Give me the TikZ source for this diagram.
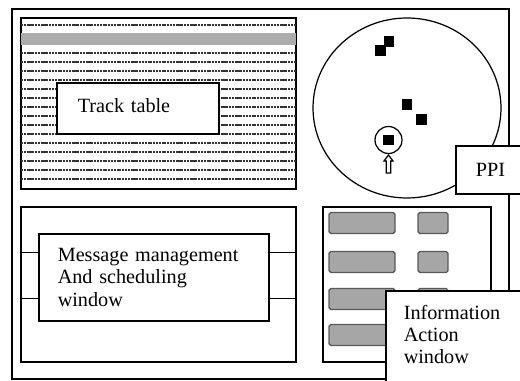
\documentclass[tikz,border=0pt]{standalone}
\usepackage{fontspec}
\setmainfont{Liberation Serif}
\usetikzlibrary{calc,fit,shapes.geometric}
\begin{document}
\begin{tikzpicture}[x=0.02cm, y=-0.02cm,
  font=\fontsize{11.5}{12.8}\selectfont,
  panel/.style={draw, line width=0.7pt, inner sep=0pt},
  label box/.style={draw, fill=white, line width=0.9pt, anchor=north west, align=left},
  blip/.style={fill=black, inner sep=0pt, minimum size=0.21cm},
  button/.style={fill=gray!70, draw=black!65, line width=0.8pt, rounded corners=1pt, inner sep=0pt, minimum height=0.42cm},
  track/.style={line width=0.6pt, black!80, dash pattern=on 1.2pt off 0.4pt}]
\useasboundingbox (0,0) rectangle (520,381);
\clip (0,0) rectangle (520,381);
\node[panel, line width=1.1pt, fit={(12,9) (509,379)}] (frame) {};
\node[panel, line width=1.2pt, fit={(21,18) (296,189)}] (trackpanel) {};
\node[panel, fit={(21,207) (296,362)}] (msgpanel) {};
\node[panel, fit={(323,207) (491,362)}] (infopanel) {};
\fill[gray!65] (21,33) rectangle (296,45);
\foreach \y in {25,53,62,...,179}
  \draw[track] (21,\y) -- (296,\y);
\node[label box, minimum width=3.24cm, minimum height=1.02cm, inner xsep=0.42cm, text width=2.4cm, text depth=0.13cm] (tracktable) at (56,82) {Track table};
\node[label box, minimum width=4.6cm, minimum height=1.74cm, inner xsep=0.38cm, text width=3.84cm] (msgbox) at (38,233) {Message management\\And scheduling\\window};
\coordinate (m1) at ($(msgbox.north west)!0.22!(msgbox.south west)$);
\coordinate (m2) at ($(msgbox.north west)!0.74!(msgbox.south west)$);
\draw[line width=0.7pt] (m1) -- (m1 -| msgpanel.west);
\draw[line width=0.7pt] (m2) -- (m2 -| msgpanel.west);
\draw[line width=0.7pt] (m1 -| msgbox.east) -- (m1 -| msgpanel.east);
\draw[line width=0.7pt] (m2 -| msgbox.east) -- (m2 -| msgpanel.east);
\node[draw, ellipse, line width=0.7pt, minimum width=3.76cm, minimum height=3.6cm, inner sep=0pt] (scope) at (407,108) {};
\node[blip] (blipa) at (389,41.5) {};
\node[blip] (blipb) at (380.5,50.5) {};
\node[blip] (blipc) at (407,104.5) {};
\node[blip] (blipd) at (421.5,119.5) {};
\node[blip] (hooked) at (388.5,140) {};
\node[draw, circle, line width=0.7pt, minimum size=0.54cm, inner sep=0pt] (ring) at (388.5,140) {};
\draw[line width=0.7pt, fill=white] (384,161) -- (388.5,155) -- (393,161) -- (390.7,161) -- (390.7,173) -- (386.3,173) -- (386.3,161) -- cycle;
\foreach \y [count=\i] in {223,262,299,335} {
  \node[button, minimum width=1.32cm] (wide\i) at (362,\y) {};
  \node[button, minimum width=0.6cm] (small\i) at (433,\y) {};
}
\node[label box, minimum height=0.96cm, inner xsep=0.4cm, text width=1.4cm] (ppi) at (455,145) {PPI};
\node[label box, inner xsep=0.36cm, inner ysep=0.28cm, text width=2.6cm, text depth=1.4cm] (info) at (385,290) {Information\\Action\\window};
\end{tikzpicture}
\end{document}
